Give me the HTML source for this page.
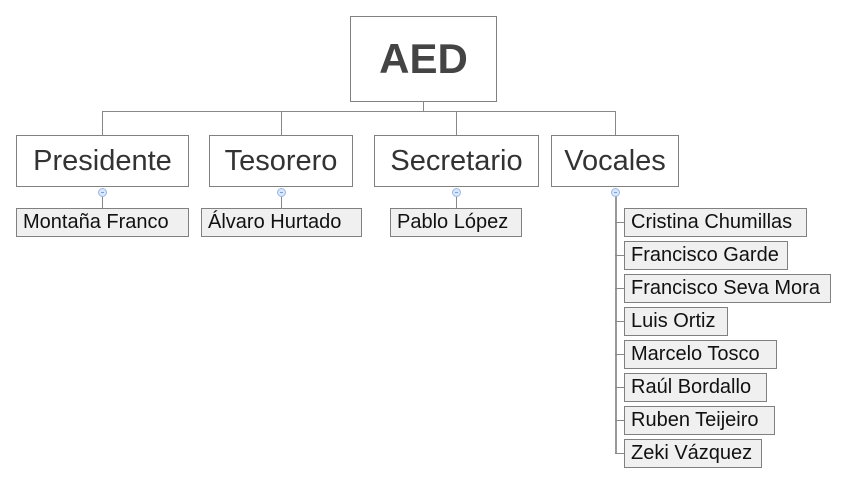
<!DOCTYPE html>
<html><head><meta charset="utf-8"><style>
body{margin:0;width:847px;height:485px;background:#fff;position:relative;overflow:hidden;font-family:"Liberation Sans",sans-serif}
.b{position:absolute;box-sizing:border-box;border:1px solid #808080;background:#fff;color:#333;display:flex;align-items:center;justify-content:center;white-space:nowrap}
.l1{top:135px;height:52px;font-size:29px}
.c{position:absolute;box-sizing:border-box;border:1px solid #808080;background:#f0f0f0;color:#111;font-size:20px;height:29px;display:flex;align-items:center;padding-left:6px;white-space:nowrap}
.h{position:absolute;background:#888;height:1px}
.v{position:absolute;background:#888;width:1px}
.o{position:absolute;width:9px;height:9px;border-radius:50%;background:#d8e6fb;border:1px solid #9db8e8;box-sizing:border-box;top:188px}
.o:after{content:"";position:absolute;left:2px;top:3px;width:3px;height:1px;background:#7f9fd8}
</style></head><body>
<div class="b" style="left:350px;top:16px;width:147px;height:86px;font-size:42px;font-weight:bold;color:#444">AED</div>
<div class="v" style="left:423px;top:101px;height:11px"></div>
<div class="h" style="left:102px;top:111px;width:514px"></div>
<div class="v" style="left:102px;top:111px;height:24px"></div>
<div class="v" style="left:281px;top:111px;height:24px"></div>
<div class="v" style="left:456px;top:111px;height:24px"></div>
<div class="v" style="left:615px;top:111px;height:24px"></div>
<div class="b l1" style="left:16px;width:173px">Presidente</div>
<div class="b l1" style="left:209px;width:144px">Tesorero</div>
<div class="b l1" style="left:374px;width:165px">Secretario</div>
<div class="b l1" style="left:551px;width:128px">Vocales</div>
<div class="v" style="left:102px;top:196px;height:12px"></div>
<div class="v" style="left:281px;top:196px;height:12px"></div>
<div class="v" style="left:456px;top:196px;height:12px"></div>
<div class="v" style="left:615px;top:196px;height:258px;width:2px;background:#999"></div>
<div class="o" style="left:98px"></div>
<div class="o" style="left:277px"></div>
<div class="o" style="left:452px"></div>
<div class="o" style="left:611px"></div>
<div class="c" style="left:16px;top:208px;width:173px">Montaña Franco</div>
<div class="c" style="left:201px;top:208px;width:161px">Álvaro Hurtado</div>
<div class="c" style="left:390px;top:208px;width:132px">Pablo López</div>
<div class="h" style="left:615px;top:222px;width:9px"></div>
<div class="h" style="left:615px;top:255px;width:9px"></div>
<div class="h" style="left:615px;top:288px;width:9px"></div>
<div class="h" style="left:615px;top:321px;width:9px"></div>
<div class="h" style="left:615px;top:354px;width:9px"></div>
<div class="h" style="left:615px;top:387px;width:9px"></div>
<div class="h" style="left:615px;top:420px;width:9px"></div>
<div class="h" style="left:615px;top:453px;width:9px"></div>
<div class="c" style="left:624px;top:208px;width:183px">Cristina Chumillas</div>
<div class="c" style="left:624px;top:241px;width:164px">Francisco Garde</div>
<div class="c" style="left:624px;top:274px;width:207px">Francisco Seva Mora</div>
<div class="c" style="left:624px;top:307px;width:104px">Luis Ortiz</div>
<div class="c" style="left:624px;top:340px;width:153px">Marcelo Tosco</div>
<div class="c" style="left:624px;top:373px;width:143px">Raúl Bordallo</div>
<div class="c" style="left:624px;top:406px;width:151px">Ruben Teijeiro</div>
<div class="c" style="left:624px;top:439px;width:138px">Zeki Vázquez</div>
</body></html>
